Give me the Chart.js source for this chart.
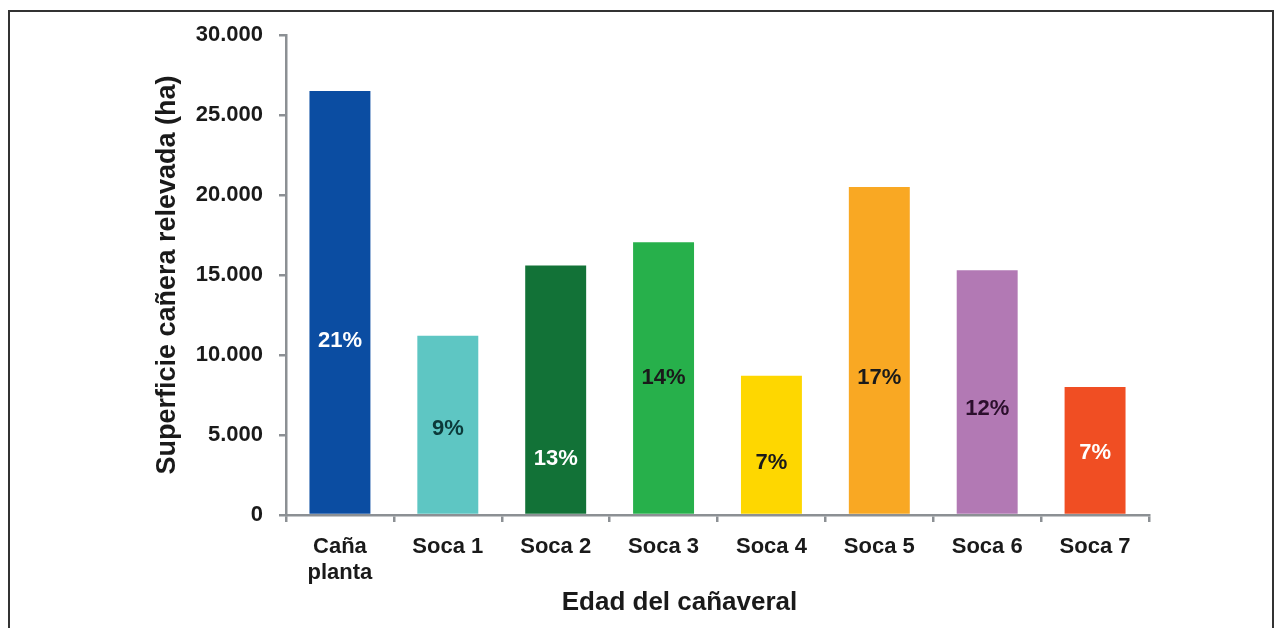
<!DOCTYPE html>
<html>
<head>
<meta charset="utf-8">
<script src="https://cdn.jsdelivr.net/npm/chart.js@4.4.1/dist/chart.umd.min.js"></script>
<style>
    html, body { margin: 0; padding: 0; background: #ffffff; }
    #marco {
        position: absolute; left: 8px; top: 10px; width: 1262px; height: 640px;
        border: 2px solid #333333; border-bottom: none;
    }
    #contenedor { position: absolute; left: 0; top: 0; width: 1282px; height: 628px; }
</style>
</head>
<body>
<div id="marco"></div>
<div id="contenedor"><canvas id="graficoCanaveral"></canvas></div>
<script>
// datos
const categorias = [['Caña', 'planta'], 'Soca 1', 'Soca 2', 'Soca 3', 'Soca 4', 'Soca 5', 'Soca 6', 'Soca 7'];
const superficie = [26500, 11200, 15600, 17050, 8700, 20500, 15300, 8000];
const porcentajes = ['21%', '9%', '13%', '14%', '7%', '17%', '12%', '7%'];
// altura (en ha) donde va cada etiqueta de porcentaje
const alturaEtiqueta = [10900, 5400, 3500, 8550, 3250, 8550, 6600, 3850];
const ticksY = [0, 5000, 10000, 15000, 20000, 25000, 30000];

const coloresBarras = ['#0b4da2', '#5ec6c3', '#127237', '#27b04b', '#fed700', '#f9a823', '#b279b4', '#f04e23'];
const coloresTexto = ['#ffffff', '#0c3a3a', '#ffffff', '#1a1a1a', '#1a1a1a', '#1a1a1a', '#2b0f2c', '#ffffff'];

const colorEje = '#8c9094';
const fuente = 'Liberation Sans, Arial, sans-serif';
const tituloX = 'Edad del cañaveral';

function formatoMiles(v) {
    return String(v).replace(/\B(?=(\d{3})+(?!\d))/g, '.');
}

const etiquetasPorcentaje = {
    id: 'etiquetasPorcentaje',
    afterDatasetsDraw(chart) {
        const ctx = chart.ctx;
        const escalaY = chart.scales.y;
        const barras = chart.getDatasetMeta(0).data;
        ctx.save();
        ctx.font = 'bold 22px ' + fuente;
        ctx.textAlign = 'center';
        ctx.textBaseline = 'middle';
        barras.forEach((barra, i) => {
            ctx.fillStyle = coloresTexto[i];
            ctx.fillText(porcentajes[i], barra.x, escalaY.getPixelForValue(alturaEtiqueta[i]));
        });
        ctx.restore();
    }
};

// el titulo del eje x no esta centrado sobre el area del grafico en el original
const tituloEjeX = {
    id: 'tituloEjeX',
    afterDraw(chart) {
        const ctx = chart.ctx;
        const area = chart.chartArea;
        ctx.save();
        ctx.font = 'bold 26px ' + fuente;
        ctx.fillStyle = '#1a1a1a';
        ctx.textAlign = 'center';
        ctx.textBaseline = 'middle';
        ctx.fillText(tituloX, (area.left + area.right) / 2 - 38, chart.scales.x.bottom - 13);
        ctx.restore();
    }
};

new Chart(document.getElementById('graficoCanaveral'), {
    type: 'bar',
    data: {
        labels: categorias,
        datasets: [{
            data: superficie,
            backgroundColor: coloresBarras,
            borderWidth: 0,
            categoryPercentage: 1,
            barPercentage: 0.565
        }]
    },
    options: {
        responsive: true,
        maintainAspectRatio: false,
        animation: false,
        layout: { padding: { left: 151, top: 35, right: 133, bottom: 12 } },
        plugins: {
            legend: { display: false },
            tooltip: { enabled: false }
        },
        scales: {
            x: {
                grid: {
                    display: true, drawOnChartArea: false, offset: true,
                    color: colorEje, lineWidth: 2.5, tickLength: 7
                },
                border: { color: colorEje, width: 2.5 },
                ticks: {
                    color: '#1a1a1a', padding: 12,
                    font: { family: fuente, size: 22, weight: 'bold', lineHeight: 1.18 }
                },
                title: { display: false },
                afterFit(escala) { escala.height = 101; }
            },
            y: {
                min: 0,
                max: 30000,
                afterBuildTicks(escala) { escala.ticks = ticksY.map(v => ({ value: v })); },
                grid: {
                    display: true, drawOnChartArea: false,
                    color: colorEje, lineWidth: 2.5, tickLength: 7
                },
                border: { color: colorEje, width: 2.5 },
                ticks: {
                    color: '#1a1a1a', padding: 16,
                    font: { family: fuente, size: 22, weight: 'bold' },
                    callback: v => formatoMiles(v)
                },
                title: {
                    display: true, text: 'Superficie cañera relevada (ha)', color: '#1a1a1a',
                    font: { family: fuente, size: 27, weight: 'bold', lineHeight: 1.2 },
                    padding: { top: 0, bottom: 0 }
                },
                afterFit(escala) { escala.width = 135; }
            }
        }
    },
    plugins: [etiquetasPorcentaje, tituloEjeX]
});
</script>
</body>
</html>
